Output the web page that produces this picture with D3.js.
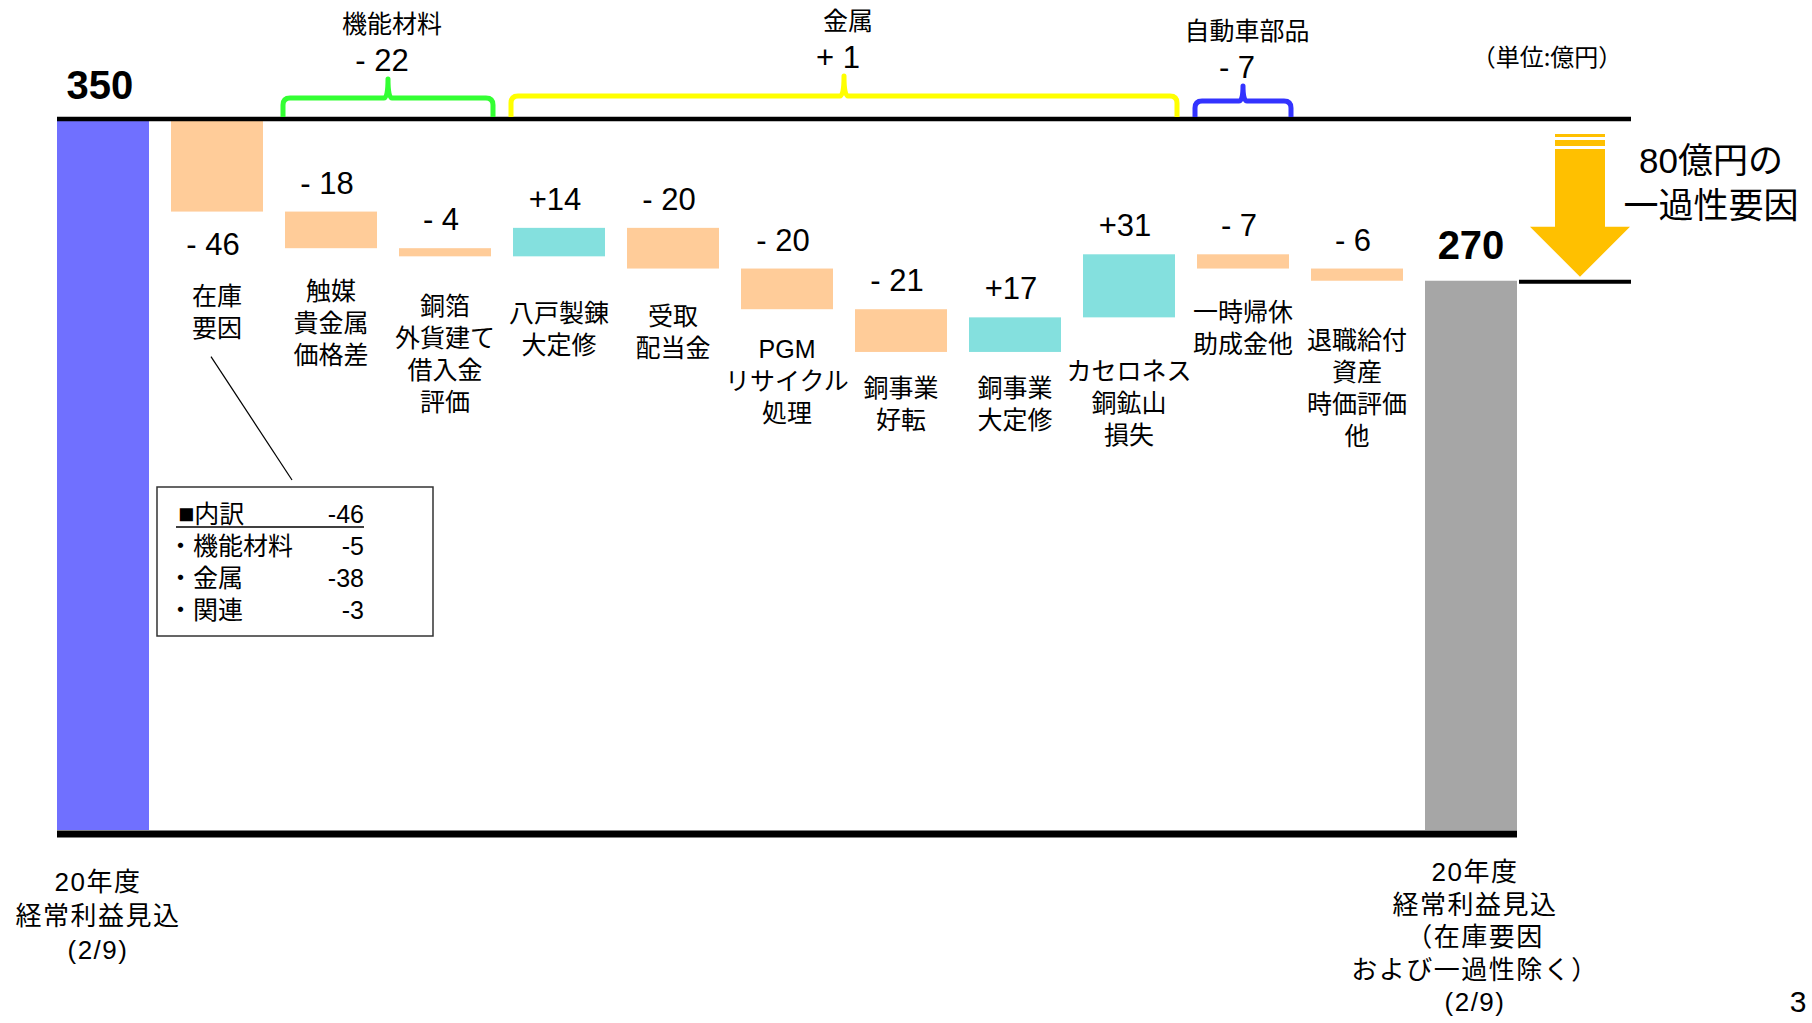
<!doctype html>
<html>
<head>
<meta charset="utf-8">
<script src="https://cdn.jsdelivr.net/npm/d3@7"></script>
<style>
  body { margin: 0; background: #fff; }
  text { fill: #000; font-family: 'Liberation Sans', 'Noto Sans CJK JP', sans-serif; }
  .num { font-size: 31px; }
  .big { font-size: 40px; font-weight: bold; }
  .jp { font-size: 25px; }
  .cjk { font-family: 'Noto Sans CJK JP', sans-serif; }
</style>
</head>
<body>
<svg width="1812" height="1023"></svg>
<script>
// ---- data ----
var startValue = 350;
var endValue = 270;
var startLines = ["20年度", "経常利益見込", "(2/9)"];
var endLines = ["20年度", "経常利益見込", "（在庫要因", "および一過性除く）", "(2/9)"];

var catLines = [
  ["在庫", "要因"],
  ["触媒", "貴金属", "価格差"],
  ["銅箔", "外貨建て", "借入金", "評価"],
  ["八戸製錬", "大定修"],
  ["受取", "配当金"],
  ["PGM", "リサイクル", "処理"],
  ["銅事業", "好転"],
  ["銅事業", "大定修"],
  ["カセロネス", "銅鉱山", "損失"],
  ["一時帰休", "助成金他"],
  ["退職給付", "資産", "時価評価", "他"]
];
var deltas = [-46, -18, -4, 14, -20, -20, -21, 17, 31, -7, -6];

var groupNames = ["機能材料", "金属", "自動車部品"];
var groupTotals = [-22, 1, -7];
var groupFirst = [1, 3, 9];   // index into deltas
var groupLast = [2, 8, 9];

var breakdownLabels = ["機能材料", "金属", "関連"];
var breakdownValues = [-5, -38, -3];

var oneOffLines = ["80億円の", "一過性要因"];

// ---- layout (not data) ----
var labelGap = [84, 43, 50, 57, 47, 40, 36, 36, 54, 43, 59];
var groupColors = ["#33ff33", "#ffff00", "#3333ff"];
var groupRise = [19, 21, 16];
var groupTip = [38, 41, 31];

var svg = d3.select("svg");

var keys = d3.range(deltas.length + 2);
var x = d3.scaleBand().domain(keys).range([57, 1517]).paddingInner(0.193).paddingOuter(0);
var y = d3.scaleLinear().domain([0, startValue]).range([830, 118]);
var bw = x.bandwidth();
var lineEnd = x.range()[1] + x.step();

// waterfall steps
var cum = startValue;
var steps = deltas.map(function(d, i) {
  var s = cum; cum += d;
  return {i: i, d: d, from: s, to: cum};
});

function fmt(v) { return v < 0 ? "- " + (-v) : "+" + v; }

function multiline(g, arr, cx, y0, dy, cls) {
  arr.forEach(function(t, k) {
    g.append("text").attr("class", cls)
      .attr("x", cx).attr("y", y0 + k * dy)
      .attr("text-anchor", "middle")
      .attr("dominant-baseline", "central")
      .text(t);
  });
}

// start / end bars
svg.append("rect")
  .attr("x", x(0)).attr("y", y(startValue))
  .attr("width", bw).attr("height", y(0) - y(startValue))
  .style("fill", "#7070ff");
svg.append("rect")
  .attr("x", x(keys.length - 1)).attr("y", y(endValue))
  .attr("width", bw).attr("height", y(0) - y(endValue))
  .style("fill", "#a6a6a6");

// delta bars
svg.selectAll("rect.step").data(steps).enter().append("rect").classed("step", true)
  .attr("x", function(d) { return x(d.i + 1); })
  .attr("y", function(d) { return y(Math.max(d.from, d.to)); })
  .attr("width", bw)
  .attr("height", function(d) { return Math.abs(y(d.from) - y(d.to)); })
  .style("fill", function(d) { return d.d < 0 ? "#ffcc99" : "#84e0de"; });

// value labels
svg.selectAll("text.val").data(steps).enter().append("text").attr("class", "num val")
  .attr("x", function(d) { return x(d.i + 1) + bw / 2 - 4; })
  .attr("y", function(d) {
    if (d.i === 0) return y(d.to) + 43;
    return y(Math.max(d.from, d.to)) - 18;
  })
  .attr("text-anchor", "middle")
  .text(function(d) { return fmt(d.d); });

// category labels
steps.forEach(function(d) {
  var bottom = y(Math.min(d.from, d.to));
  multiline(svg, catLines[d.i], x(d.i + 1) + bw / 2, bottom + labelGap[d.i], 32, "jp");
});

// top / bottom lines
svg.append("line")
  .attr("x1", x(0)).attr("x2", lineEnd)
  .attr("y1", y(startValue) + 1).attr("y2", y(startValue) + 1)
  .style("stroke", "#000").style("stroke-width", 4.5);
svg.append("line")
  .attr("x1", x(0)).attr("x2", x.range()[1])
  .attr("y1", y(0) + 4).attr("y2", y(0) + 4)
  .style("stroke", "#000").style("stroke-width", 7);
svg.append("line")
  .attr("x1", x.range()[1] + 2).attr("x2", lineEnd)
  .attr("y1", y(endValue) + 1).attr("y2", y(endValue) + 1)
  .style("stroke", "#000").style("stroke-width", 4);

// totals
svg.append("text").attr("class", "big")
  .attr("x", x(0) + bw / 2 - 3).attr("y", y(startValue) - 19)
  .attr("text-anchor", "middle").text(startValue);
svg.append("text").attr("class", "big")
  .attr("x", x(keys.length - 1) + bw / 2).attr("y", y(endValue) - 22)
  .attr("text-anchor", "middle").text(endValue);

// bottom labels
svg.append("g").call(function(g) {
  multiline(g, startLines, x(0) + bw / 2 - 5, y(0) + 52, 34, "jp foot");
  multiline(g, endLines, x(keys.length - 1) + bw / 2 + 4, y(0) + 42, 32.5, "jp foot");
});
svg.selectAll("text.foot").style("font-size", "26px").style("letter-spacing", "1.5px");

// group brackets
var base = y(startValue) - 1;
groupNames.forEach(function(name, k) {
  var x0 = x(groupFirst[k] + 1) - 2;
  var x1 = x(groupLast[k] + 1) + bw + 2;
  var tip = (x0 + x1) / 2;
  var top = base - groupRise[k];
  var tipTop = base - groupTip[k];
  var r = 7;
  var p = "M" + x0 + "," + base +
    " L" + x0 + "," + (top + r) +
    " Q" + x0 + "," + top + " " + (x0 + r) + "," + top +
    " L" + (tip - 4) + "," + top +
    " Q" + tip + "," + top + " " + tip + "," + tipTop +
    " Q" + tip + "," + top + " " + (tip + 4) + "," + top +
    " L" + (x1 - r) + "," + top +
    " Q" + x1 + "," + top + " " + x1 + "," + (top + r) +
    " L" + x1 + "," + base;
  svg.append("path").attr("d", p)
    .style("fill", "none").style("stroke", groupColors[k])
    .style("stroke-width", 5).style("stroke-linejoin", "round");
  svg.append("text").attr("class", "jp")
    .attr("x", tip + 4).attr("y", tipTop - 55)
    .attr("text-anchor", "middle").attr("dominant-baseline", "central")
    .text(name);
  var v = groupTotals[k];
  svg.append("text").attr("class", "num")
    .attr("x", tip - 6).attr("y", tipTop - 8)
    .attr("text-anchor", "middle")
    .text(v < 0 ? "- " + (-v) : "+ " + v);
});

// unit
svg.append("text").attr("class", "jp cjk")
  .attr("x", lineEnd - 84).attr("y", 55)
  .attr("text-anchor", "middle").attr("dominant-baseline", "central")
  .style("font-size", "24px")
  .text("（単位:億円）");

// one-off arrow
var ax = (x.range()[1] + lineEnd) / 2 + 6;
var aTop = y(startValue) + 16;
var aTip = y(endValue) - 4;
var aHead = aTip - 50;
var sw = 25, hw = 50;
var arrow = svg.append("g").style("fill", "#ffc000");
arrow.append("rect").attr("x", ax - sw).attr("y", aTop).attr("width", sw * 2).attr("height", 3);
arrow.append("rect").attr("x", ax - sw).attr("y", aTop + 6).attr("width", sw * 2).attr("height", 6);
arrow.append("path").attr("d",
  "M" + (ax - sw) + "," + (aTop + 15) +
  " L" + (ax + sw) + "," + (aTop + 15) +
  " L" + (ax + sw) + "," + aHead +
  " L" + (ax + hw) + "," + aHead +
  " L" + ax + "," + aTip +
  " L" + (ax - hw) + "," + aHead +
  " L" + (ax - sw) + "," + aHead + " Z");

svg.append("g").call(function(g) {
  multiline(g, oneOffLines, ax + 131, 160, 45, "jp oneoff");
});
svg.selectAll("text.oneoff").style("font-size", "35px");

// breakdown box for inventory factor
var cx1 = x(1) + bw / 2;
var boxTop = 487;
svg.append("line")
  .attr("x1", cx1 - 6).attr("y1", y(steps[0].to) + labelGap[0] + 32 + 29)
  .attr("x2", cx1 + 75).attr("y2", boxTop - 7)
  .style("stroke", "#000").style("stroke-width", 1.2);
svg.append("rect")
  .attr("x", cx1 - 60).attr("y", boxTop).attr("width", 276).attr("height", 149)
  .style("fill", "none").style("stroke", "#333").style("stroke-width", 1.5);

var bx = cx1 - 39, bxr = cx1 + 147;
var head = svg.append("text").attr("class", "jp").attr("x", bx).attr("y", boxTop + 36);
head.append("tspan").style("font-size", "27px").text("■");
head.append("tspan").text("内訳");
svg.append("text").attr("class", "jp").attr("x", bxr).attr("y", boxTop + 36)
  .attr("text-anchor", "end").text(d3.sum(breakdownValues));
svg.append("line")
  .attr("x1", bx - 2).attr("x2", bxr).attr("y1", boxTop + 40).attr("y2", boxTop + 40)
  .style("stroke", "#000").style("stroke-width", 1.5);
breakdownLabels.forEach(function(t, k) {
  var yy = boxTop + 68 + k * 32;
  svg.append("text").attr("class", "jp").attr("x", bx - 10).attr("y", yy).text("・" + t);
  svg.append("text").attr("class", "jp").attr("x", bxr).attr("y", yy)
    .attr("text-anchor", "end").text(breakdownValues[k]);
});

// page number
svg.append("text").attr("x", 1798).attr("y", 1012)
  .attr("text-anchor", "middle").style("font-size", "30px").text("3");
</script>
</body>
</html>
